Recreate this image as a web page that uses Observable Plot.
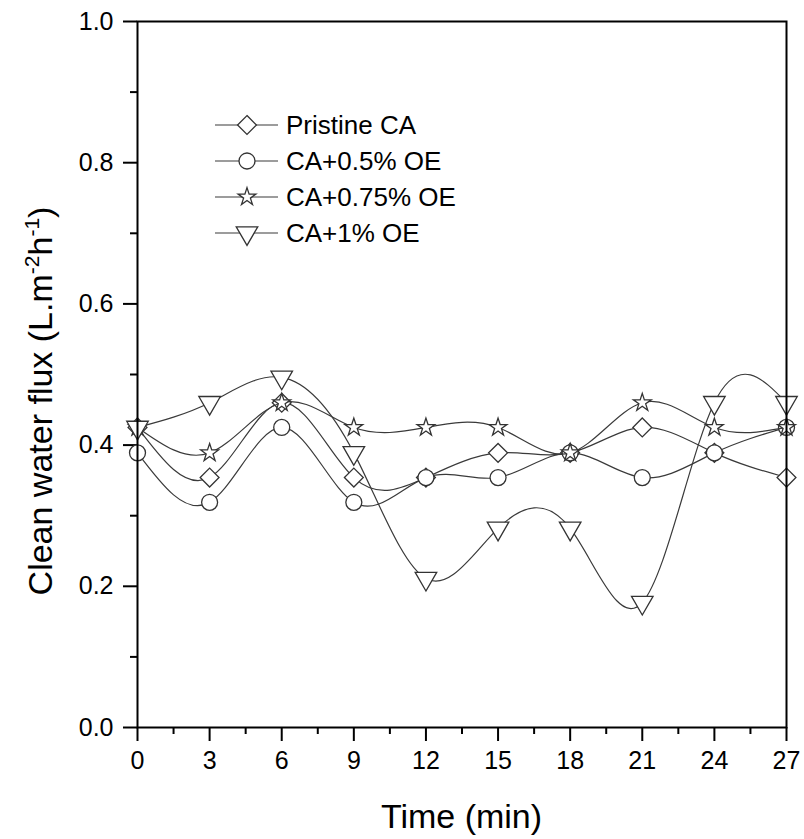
<!DOCTYPE html>
<html><head><meta charset="utf-8">
<script src="https://cdn.jsdelivr.net/npm/d3@7"></script>
<script src="https://cdn.jsdelivr.net/npm/@observablehq/plot@0.6"></script>
<style>
body{margin:0;background:#fff;font-family:"Liberation Sans",Arial,sans-serif;}
#wrap{position:relative;width:804px;height:839px;}
</style></head><body><div id="wrap"></div>
<script>
// ---- data ----
const times = [0, 3, 6, 9, 12, 15, 18, 21, 24, 27];
const seriesNames = ["Pristine CA", "CA+0.5% OE", "CA+0.75% OE", "CA+1% OE"];
const pristineCA = [0.425, 0.354, 0.460, 0.354, 0.354, 0.389, 0.389, 0.425, 0.389, 0.354];
const ca05OE     = [0.389, 0.319, 0.425, 0.319, 0.354, 0.354, 0.389, 0.354, 0.389, 0.425];
const ca075OE    = [0.425, 0.389, 0.460, 0.425, 0.425, 0.425, 0.389, 0.460, 0.425, 0.425];
const ca1OE      = [0.425, 0.460, 0.496, 0.389, 0.211, 0.282, 0.282, 0.177, 0.460, 0.460];
const xTicks = [0, 3, 6, 9, 12, 15, 18, 21, 24, 27];
const xMinorTicks = [1.5, 4.5, 7.5, 10.5, 13.5, 16.5, 19.5, 22.5, 25.5];
const yTicks = [0, 0.2, 0.4, 0.6, 0.8, 1.0];
const yMinorTicks = [0.1, 0.3, 0.5, 0.7, 0.9];
const xTitle = "Time (min)";
const yTitleParts = ["Clean water flux (L.m", "-2", "h", "-1", ")"];

const allValues = [pristineCA, ca05OE, ca075OE, ca1OE];
const symbols = ["diamond2", "circle", "star", "triangle"];
const rotations = [0, 0, 0, 180];
const radii = [8.5, 8, 5.6, 8];
const d3Symbols = [d3.symbolDiamond2, d3.symbolCircle, d3.symbolStar, d3.symbolTriangle];

const tables = seriesNames.map((s, i) => times.map((t, j) => ({series: s, t, v: allValues[i][j]})));

const font = "'Liberation Sans', Arial, sans-serif";

const marks = [
  Plot.axisX({ticks: xTicks, tickSize: 14, tickPadding: 10, tickFormat: d => String(d), label: null, strokeWidth: 2, fontSize: 25}),
  Plot.axisX({ticks: xMinorTicks, tickSize: 7, text: null, label: null, strokeWidth: 2}),
  Plot.axisY({ticks: yTicks, tickSize: 14, tickPadding: 10, tickFormat: d3.format(".1f"), label: null, strokeWidth: 2, fontSize: 25}),
  Plot.axisY({ticks: yMinorTicks, tickSize: 7, text: null, label: null, strokeWidth: 2}),
];
tables.forEach((tb, i) => {
  marks.push(Plot.line(tb, {x: "t", y: "v", curve: "natural", stroke: "#3a3a3a", strokeWidth: 1.2}));
  marks.push(Plot.dot(tb, {x: "t", y: "v", symbol: symbols[i], rotate: rotations[i], r: radii[i], fill: "white", stroke: "#333", strokeWidth: 1.3}));
});
marks.push(Plot.frame({stroke: "black", strokeWidth: 2}));

const chart = Plot.plot({
  width: 804, height: 839,
  marginLeft: 137, marginRight: 18, marginTop: 21, marginBottom: 112,
  x: {domain: [0, 27]},
  y: {domain: [0, 1]},
  style: {fontFamily: font, fontSize: "25px", color: "black", background: "white"},
  marks
});
document.getElementById("wrap").appendChild(chart);

const svg = d3.select(chart);
// x title
svg.append("text").attr("x", 461.5).attr("y", 828).attr("text-anchor", "middle")
  .attr("font-size", 34).attr("font-family", font).attr("fill", "black").text(xTitle);
// y title with superscripts
const yt = svg.append("text").attr("transform", "translate(52,401) rotate(-90)")
  .attr("text-anchor", "middle").attr("font-size", 34).attr("font-family", font).attr("fill", "black");
yt.append("tspan").text(yTitleParts[0]);
yt.append("tspan").attr("dy", -13).attr("font-size", 21).text(yTitleParts[1]);
yt.append("tspan").attr("dy", 13).text(yTitleParts[2]);
yt.append("tspan").attr("dy", -13).attr("font-size", 21).text(yTitleParts[3]);
yt.append("tspan").attr("dy", 13).text(yTitleParts[4]);

// legend
const lg = svg.append("g");
const rowY = [125, 161, 197, 233];
seriesNames.forEach((s, i) => {
  const g = lg.append("g").attr("transform", `translate(0,${rowY[i]})`);
  g.append("line").attr("x1", 215).attr("x2", 278).attr("y1", 0).attr("y2", 0).attr("stroke", "#3a3a3a").attr("stroke-width", 1.2);
  g.append("path").attr("d", d3.symbol(d3Symbols[i], Math.PI * radii[i] * radii[i])())
    .attr("transform", `translate(247,0) rotate(${rotations[i]})`)
    .attr("fill", "white").attr("stroke", "#333").attr("stroke-width", 1.3);
  g.append("text").attr("x", 286).attr("y", 0).attr("dy", "0.35em").attr("font-size", 26)
    .attr("text-anchor", "start")
    .attr("font-family", font).attr("fill", "black").text(s);
});
</script></body></html>
